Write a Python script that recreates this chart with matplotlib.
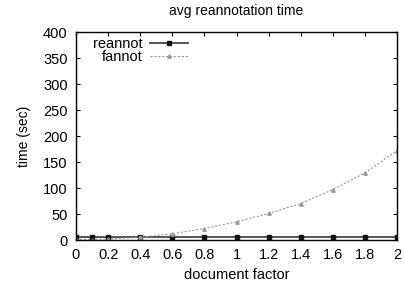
import matplotlib
matplotlib.use('Agg')
import matplotlib.pyplot as plt
import numpy as np

plt.rcParams['font.family'] = ['Liberation Sans', 'DejaVu Sans']

# data
reannotX = [0, 0.1, 0.2, 0.4, 0.6, 0.8, 1.0, 1.2, 1.4, 1.6, 1.8, 2.0]
reannotY = [6, 6, 6, 6, 6, 6, 6, 6, 6, 6, 6, 6]
fannotX = [0, 0.2, 0.4, 0.6, 0.8, 1.0, 1.2, 1.4, 1.6, 1.8, 2.0]
fannotY = [1, 2, 5, 12, 22, 35, 51, 70, 97, 129, 172]

xTicks = [0, 0.2, 0.4, 0.6, 0.8, 1, 1.2, 1.4, 1.6, 1.8, 2]
xTickLabels = ['0', '0.2', '0.4', '0.6', '0.8', '1', '1.2', '1.4', '1.6', '1.8', '2']
yTicks = [0, 50, 100, 150, 200, 250, 300, 350, 400]

fig = plt.figure(figsize=(4.04, 2.88), dpi=100)
ax = fig.add_axes([76/404, 48/288, 321/404, 208/288])

ax.plot(reannotX, reannotY, '-', color='#555555', lw=1.4, marker='s', ms=3.5,
        mfc='#111111', mec='#111111', label='reannot')
ax.plot(fannotX, fannotY, '--', color='#999999', lw=0.8, dashes=(2, 1.5),
        marker='^', ms=2.5, mfc='#999999', mec='#999999', label='fannot')

ax.set_xlim(0, 2)
ax.set_ylim(0, 400)
ax.set_xticks(xTicks)
ax.set_xticklabels(xTickLabels)
ax.set_yticks(yTicks)
ax.tick_params(direction='in', top=True, right=True, labelsize=10.5, length=3, pad=6)
for s in ax.spines.values():
    s.set_linewidth(1.0)

ax.set_title('avg reannotation time', fontsize=10, pad=12)
ax.set_xlabel('document factor', fontsize=10.5, labelpad=4)
ax.set_ylabel('time (sec)', fontsize=10, labelpad=9)

ax.legend(loc='upper left', frameon=False, fontsize=10.5, markerfirst=False,
          handlelength=2.6, handletextpad=0.5, labelspacing=-0.05,
          borderaxespad=0.0, bbox_to_anchor=(0.035, 1.003))

plt.savefig('out.png', dpi=100)
